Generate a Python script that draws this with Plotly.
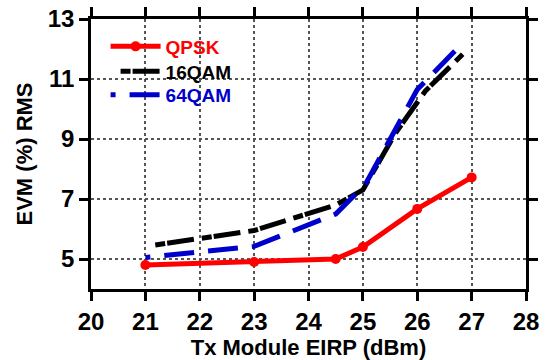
import plotly.graph_objects as go

# Data
qpsk_x = [21, 23, 24.5, 25, 26, 27]
qpsk_y = [4.8, 4.9, 5.0, 5.4, 6.67, 7.72]

qam16_x = [21, 23, 24.5, 25, 25.6, 26.15, 26.85]
qam16_y = [5.42, 5.95, 6.8, 7.3, 9.2, 10.6, 11.85]

qam64_x = [21, 23, 24.5, 25.05, 26, 26.7]
qam64_y = [5.05, 5.42, 6.5, 7.5, 10.65, 11.95]

x_ticks = [20, 21, 22, 23, 24, 25, 26, 27, 28]
y_ticks = [5, 7, 9, 11, 13]

FONT = "Liberation Sans, Arial, sans-serif"

black_dash = "0px,10px," + ",".join(["10px,2px,27px,8px"] * 40)
blue_dash = "5px,14px," + ",".join(["30px,14px"] * 40)

fig = go.Figure()
fig.add_trace(go.Scatter(
    x=qam16_x, y=qam16_y, mode="lines",
    name="<b><span style='color:#000000'>16QAM</span></b>",
    line=dict(color="#000000", width=5, dash=black_dash),
    legend="legend2",
))
fig.add_trace(go.Scatter(
    x=qam64_x, y=qam64_y, mode="lines",
    name="<b><span style='color:#0000CC'>64QAM</span></b>",
    line=dict(color="#0000CC", width=5, dash=blue_dash),
    legend="legend3",
))
fig.add_trace(go.Scatter(
    x=qpsk_x, y=qpsk_y, mode="lines+markers",
    name="<b><span style='color:#FF0000'>QPSK</span></b>",
    line=dict(color="#FF0000", width=5),
    marker=dict(color="#FF0000", size=10, symbol="circle"),
    legend="legend",
))

axis_common = dict(
    showline=True, linecolor="black", linewidth=2.5, mirror="ticks",
    ticks="outside", ticklen=9, tickwidth=2.5, tickcolor="black",
    showgrid=True, gridcolor="#555555", gridwidth=2, griddash="dot",
    zeroline=False,
    tickfont=dict(family=FONT, size=24, color="black", weight="bold"),
)

fig.update_xaxes(
    range=[20, 28], tickvals=x_ticks, ticktext=[str(v) for v in x_ticks],
    title=dict(text="<b>Tx Module EIRP (dBm)</b>", font=dict(family=FONT, size=22, color="black"), standoff=12),
    **axis_common,
)
fig.update_yaxes(
    range=[4, 13], tickvals=y_ticks, ticktext=[str(v) for v in y_ticks],
    title=dict(text="<b>EVM (%) RMS</b>", font=dict(family=FONT, size=22, color="black"), standoff=10),
    **axis_common,
)

legend_common = dict(
    xanchor="left", yanchor="top", x=0.0335,
    bgcolor="rgba(0,0,0,0)", borderwidth=0,
    font=dict(family=FONT, size=19),
    itemwidth=50, tracegroupgap=0,
)

# white background box behind the legend entries (covers grid lines)
fig.add_shape(
    type="rect", xref="paper", yref="paper",
    x0=0.0368, x1=0.331, y0=0.670, y1=0.948,
    fillcolor="white", line=dict(width=0), layer="between",
)

fig.update_layout(
    width=547, height=360,
    margin=dict(l=91, r=21, t=19, b=71, autoexpand=False),
    paper_bgcolor="white", plot_bgcolor="white",
    font=dict(family=FONT, color="black"),
    legend=dict(y=0.9685, **legend_common),
    legend2=dict(y=0.876, **legend_common),
    legend3=dict(y=0.7896, **legend_common),
    showlegend=True,
)

fig.write_html(
    "out.html",
    config={"displayModeBar": False},
    post_script="document.body.style.margin='0';document.body.style.padding='0';document.body.style.overflow='hidden';",
)
